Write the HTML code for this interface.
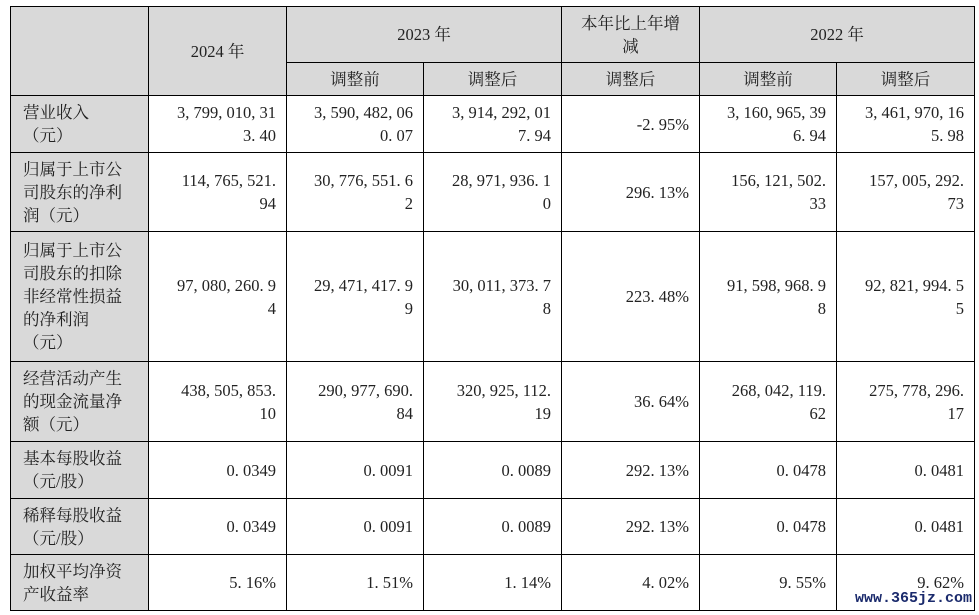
<!DOCTYPE html>
<html><head><meta charset="utf-8"><style>
body{margin:0;width:979px;height:615px;background:#fff;position:relative;overflow:hidden;font-family:"Liberation Serif","Noto Serif CJK SC",serif;font-size:16.5px;color:#222}
.c{position:absolute;box-sizing:border-box;border:1px solid #000;display:flex;align-items:center;line-height:23px}
.h{background:#d9d9d9;justify-content:center;text-align:center}
.l{background:#d9d9d9;padding-left:12px}
.v{justify-content:flex-end;text-align:right;padding-right:10px}
.wm{position:absolute;left:855px;top:590px;font-family:"Liberation Mono",monospace;font-size:15px;font-weight:bold;color:#1a2a6c}
</style></head><body>
<div id="t"></div>
<div class="wm">www.365jz.com</div>
<script>
const xs=[10,148,286,423,561,699,836,974];
const ys=[95,152,231,361,441,498,554,610];
const labelsFix=["营业收入<br>（元）","归属于上市公<br>司股东的净利<br>润（元）","归属于上市公<br>司股东的扣除<br>非经常性损益<br>的净利润<br>（元）","经营活动产生<br>的现金流量净<br>额（元）","基本每股收益<br>（元/股）","稀释每股收益<br>（元/股）","加权平均净资<br>产收益率"];
const vals=[
["3, 799, 010, 31<br>3. 40","3, 590, 482, 06<br>0. 07","3, 914, 292, 01<br>7. 94","-2. 95%","3, 160, 965, 39<br>6. 94","3, 461, 970, 16<br>5. 98"],
["114, 765, 521.<br>94","30, 776, 551. 6<br>2","28, 971, 936. 1<br>0","296. 13%","156, 121, 502.<br>33","157, 005, 292.<br>73"],
["97, 080, 260. 9<br>4","29, 471, 417. 9<br>9","30, 011, 373. 7<br>8","223. 48%","91, 598, 968. 9<br>8","92, 821, 994. 5<br>5"],
["438, 505, 853.<br>10","290, 977, 690.<br>84","320, 925, 112.<br>19","36. 64%","268, 042, 119.<br>62","275, 778, 296.<br>17"],
["0. 0349","0. 0091","0. 0089","292. 13%","0. 0478","0. 0481"],
["0. 0349","0. 0091","0. 0089","292. 13%","0. 0478","0. 0481"],
["5. 16%","1. 51%","1. 14%","4. 02%","9. 55%","9. 62%"]];
const t=document.getElementById('t');
function cell(x0,y0,x1,y1,cls,html,name){const d=document.createElement('div');d.className='c '+cls;
d.style.left=x0+'px';d.style.top=y0+'px';d.style.width=(x1-x0+1)+'px';d.style.height=(y1-y0+1)+'px';d.innerHTML=html;


t.appendChild(d);}
cell(xs[0],6,xs[1],95,'h','','corner-header');
cell(xs[1],6,xs[2],95,'h','2024 年','header-2024');
cell(xs[2],6,xs[4],62,'h','2023 年','header-2023');
cell(xs[4],6,xs[5],62,'h','本年比上年增<br>减','header-change');
cell(xs[5],6,xs[7],62,'h','2022 年','header-2022');
const subs=[[2,'调整前'],[3,'调整后'],[4,'调整后'],[5,'调整前'],[6,'调整后']];
subs.forEach(s=>cell(xs[s[0]],62,xs[s[0]+1],95,'h',s[1],'subheader'));
for(let r=0;r<7;r++){
cell(xs[0],ys[r],xs[1],ys[r+1],'l',labelsFix[r],'row-label');
for(let c=0;c<6;c++)cell(xs[c+1],ys[r],xs[c+2],ys[r+1],'v',vals[r][c],'value-cell');
}
</script>
</body></html>
